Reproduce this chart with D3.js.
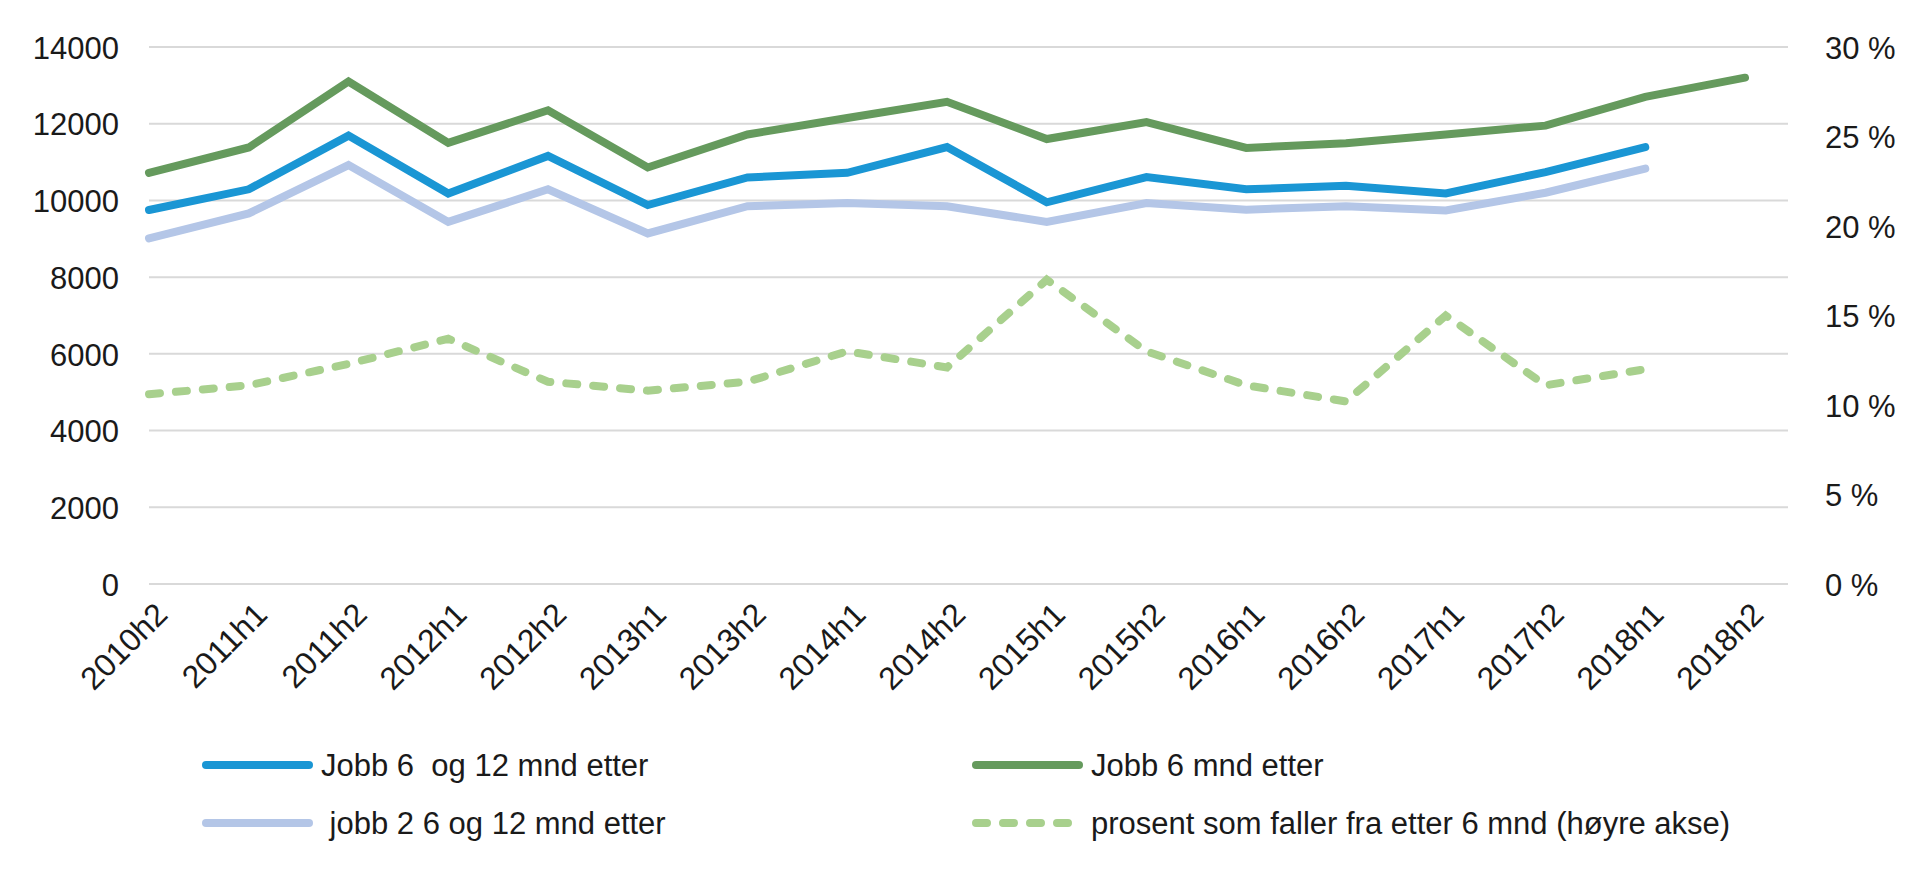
<!DOCTYPE html>
<html>
<head>
<meta charset="utf-8">
<script src="https://cdn.jsdelivr.net/npm/d3@7"></script>
<style>
    body { margin: 0; background: #ffffff; }
    #chart text { font-family: "Liberation Sans", Arial, sans-serif; fill: #1a1a1a; }
</style>
</head>
<body>
<div id="data-visualization"></div>
<script>
const periods = ["2010h2", "2011h1", "2011h2", "2012h1", "2012h2", "2013h1", "2013h2", "2014h1", "2014h2",
    "2015h1", "2015h2", "2016h1", "2016h2", "2017h1", "2017h2", "2018h1", "2018h2"];

// left axis series (null = no value)
const jobb6og12 = [9750, 10290, 11690, 10180, 11160, 9880, 10600, 10720, 11390,
    9950, 10610, 10290, 10380, 10180, 10740, 11390, null];
const jobb6 = [10720, 11380, 13100, 11500, 12350, 10860, 11720, 12150, 12570,
    11600, 12040, 11370, 11490, 11720, 11950, 12700, 13200];
const jobb2 = [9010, 9660, 10920, 9440, 10290, 9140, 9850, 9930, 9850,
    9440, 9930, 9760, 9850, 9740, 10200, 10830, null];

// right axis series, percent
const prosentFaller = [10.6, 11.1, 12.3, 13.7, 11.3, 10.8, 11.3, 13.0, 12.1,
    17.0, 13.0, 11.1, 10.2, 15.0, 11.1, 12.0, null];

const leftTicks = [0, 2000, 4000, 6000, 8000, 10000, 12000, 14000];
const rightTicks = [0, 5, 10, 15, 20, 25, 30];

const legendItems = [
    { label: "Jobb 6  og 12 mnd etter", values: jobb6og12, color: "#1a96d4", dash: null },
    { label: "Jobb 6 mnd etter", values: jobb6, color: "#659a5d", dash: null },
    { label: " jobb 2 6 og 12 mnd etter", values: jobb2, color: "#b4c6e7", dash: null },
    { label: "prosent som faller fra etter 6 mnd (høyre akse)", values: prosentFaller, color: "#a8d08d", dash: "11,16" }
];

const svg_width = 1920, svg_height = 875;
const plotLeft = 149, plotRight = 1788, lastX = 1745, plotTop = 47, plotBottom = 584;

let svg = d3.select("#data-visualization")
    .append("svg")
    .attr("id", "chart")
    .attr("width", svg_width)
    .attr("height", svg_height);

// scales
let xScale = d3.scalePoint()
    .domain(periods)
    .range([plotLeft, lastX]);
let yLeft = d3.scaleLinear().domain([0, 14000]).range([plotBottom, plotTop]);
let yRight = d3.scaleLinear().domain([0, 30]).range([plotBottom, plotTop]);

// gridlines
svg.append("g")
    .selectAll("line")
    .data(leftTicks)
    .enter()
    .append("line")
    .attr("x1", plotLeft)
    .attr("x2", plotRight)
    .attr("y1", d => yLeft(d))
    .attr("y2", d => yLeft(d))
    .style("stroke", "#d9d9d9")
    .style("stroke-width", 2);

// left axis labels
let axisLeft = svg.append("g")
    .attr("transform", "translate(" + 119 + ",0)")
    .call(d3.axisLeft(yLeft).tickValues(leftTicks).tickSize(0).tickPadding(0).tickFormat(d => d));
axisLeft.select(".domain").remove();
axisLeft.selectAll("text").style("font-size", "31px").attr("dy", "0.36em");

// right axis labels
let axisRight = svg.append("g")
    .attr("transform", "translate(" + 1825 + ",0)")
    .call(d3.axisRight(yRight).tickValues(rightTicks).tickSize(0).tickPadding(0).tickFormat(d => d + " %"));
axisRight.select(".domain").remove();
axisRight.selectAll("text").style("font-size", "31px").attr("dy", "0.36em");

// category labels, rotated
svg.append("g")
    .selectAll("text")
    .data(periods)
    .enter()
    .append("text")
    .attr("text-anchor", "end")
    .attr("transform", d => "translate(" + (xScale(d) + 4) + "," + 600 + ") rotate(-45)")
    .attr("dy", "0.72em")
    .style("font-size", "32px")
    .text(d => d);

// lines
legendItems.forEach(item => {
    let scale = item.values === prosentFaller ? yRight : yLeft;
    let line = d3.line()
        .defined(d => d !== null)
        .x((d, i) => xScale(periods[i]))
        .y(d => scale(d));
    svg.append("path")
        .datum(item.values)
        .attr("d", line)
        .style("stroke", item.color)
        .style("stroke-width", 8)
        .style("stroke-linecap", "round")
        .style("stroke-dasharray", item.dash)
        .style("fill", "none");
});

// legend
let legend = svg.selectAll("legends")
    .data(legendItems)
    .enter()
    .append("g")
    .attr("transform", (d, i) => "translate(" + (i % 2 === 0 ? 206 : 976) + "," + (i < 2 ? 765 : 823) + ")");
legend
    .append("line")
    .attr("x1", 0)
    .attr("x2", 103)
    .style("stroke", d => d.color)
    .style("stroke-width", 8)
    .style("stroke-linecap", "round")
    .style("stroke-dasharray", d => d.dash);
legend
    .append("text")
    .attr("x", 115)
    .attr("dy", "0.36em")
    .style("font-size", "31px")
    .style("white-space", "pre")
    .text(d => d.label);
</script>
</body>
</html>
